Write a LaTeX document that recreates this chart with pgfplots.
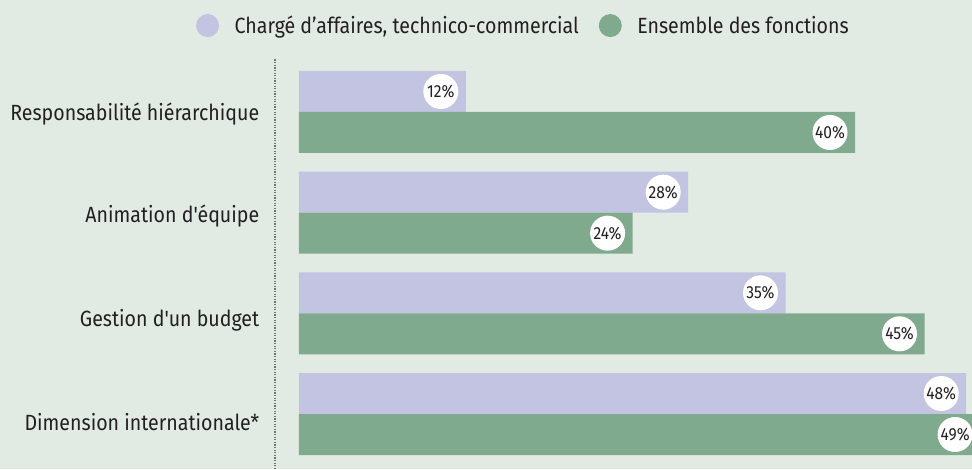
\documentclass[border=0pt]{standalone}
\usepackage{pgfplots}
\pgfplotsset{compat=1.18}
\usepackage{fontspec}
\setmainfont{Fira Sans}[FakeStretch=0.89]
\newfontfamily\ff{Fira Sans}[FakeStretch=0.89]
\definecolor{bgc}{HTML}{E2EBE3}
\definecolor{lav}{HTML}{C3C4E2}
\definecolor{grn}{HTML}{80AA8D}
\definecolor{txt}{HTML}{231F20}
\begin{document}
\begin{tikzpicture}[x=1pt,y=1pt]
\fill[bgc] (0,0) rectangle (972,469);
\draw[black!55, line width=1.3pt, dash pattern=on 1.3pt off 1.3pt] (275,0) -- (275,410);
\begin{axis}[
  at={(299pt,0pt)}, anchor=south west,
  scale only axis, width=688.05pt, height=469pt,
  xmin=0, xmax=49.5, ymin=-0.5463, ymax=4.1125,
  clip=false,
  xbar, bar width=41pt,
  axis line style={draw=none}, tick style={draw=none},
  xtick=\empty,
  /pgf/number format/assume math mode=true,
  ytick={-0.08,0.93,1.97,2.98},
  yticklabels={Dimension internationale*, Gestion d'un budget, Animation d'équipe, Responsabilité hiérarchique},
  yticklabel style={font=\ff\fontsize{22}{26}\selectfont, text=txt, xshift=-32pt},
  nodes near coords={\pgfmathprintnumber{\pgfplotspointmeta}\%},
  point meta=x,
  every node near coord/.append style={circle, fill=white, inner sep=0pt, minimum size=35pt, anchor=center, xshift=-25pt, font=\fontsize{17.5}{19}\selectfont, text=txt},
  legend style={at={(0.3262,0.9455)}, anchor=center, draw=none, fill=none, font=\fontsize{22}{26}\selectfont, text=txt, legend columns=2, /tikz/every even column/.append style={column sep=18pt}},
  legend image code/.code={\fill[#1] (0pt,0pt) circle (11.5pt); \path (25pt,0pt);},
]
\addplot[fill=lav, draw=none, bar shift=20.5pt] coordinates {(48,0) (35,1) (28,2) (12,3)};
\addplot[fill=grn, draw=none, bar shift=-20.5pt] coordinates {(49,0) (45,1) (24,2) (40,3)};
\legend{{Chargé d’affaires, technico-commercial}, Ensemble des fonctions}
\end{axis}
\pgfresetboundingbox
\useasboundingbox (0,0) rectangle (972,469);
\end{tikzpicture}
\end{document}
